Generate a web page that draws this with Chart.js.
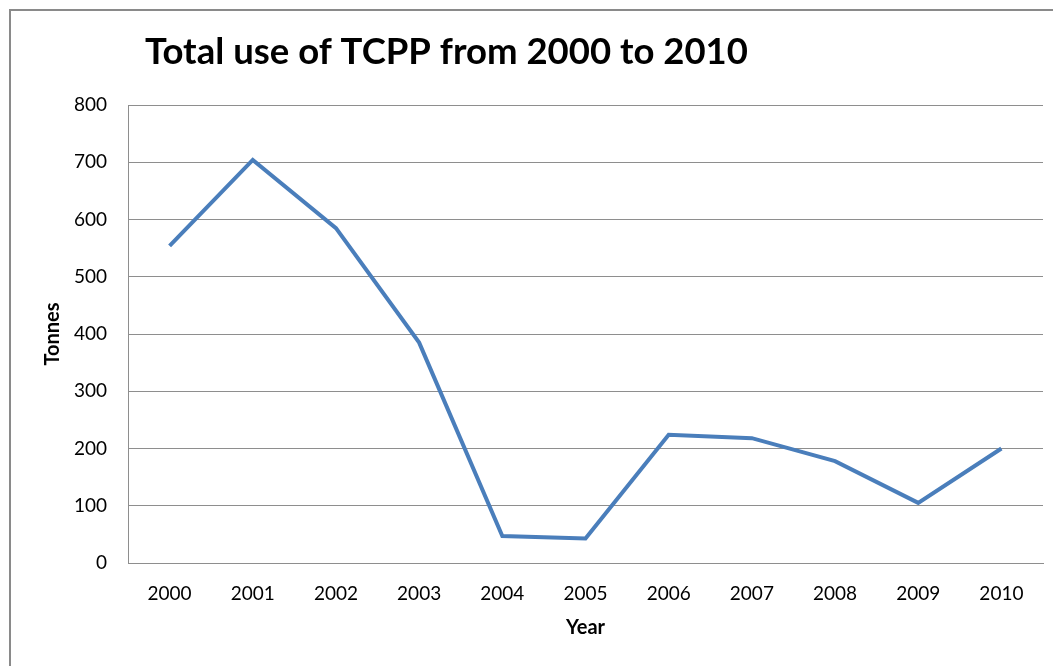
<!DOCTYPE html>
<html>
<head>
<meta charset="utf-8">
<script src="https://cdn.jsdelivr.net/npm/chart.js@4"></script>
<style>
html,body{margin:0;padding:0;background:#fff;}
#wrap{width:1053px;height:666px;position:relative;}
</style>
</head>
<body>
<div id="wrap"><canvas id="c" width="1053" height="666"></canvas></div>
<script>
const chartTitle = 'Total use of TCPP from 2000 to 2010';
const years = ['2000','2001','2002','2003','2004','2005','2006','2007','2008','2009','2010'];
const tonnes = [554, 704, 585, 385, 47, 43, 224, 218, 178, 105, 200];
const yTicks = [0, 100, 200, 300, 400, 500, 600, 700, 800];
const yAxisTitle = 'Tonnes';
const xAxisTitle = 'Year';

const FONT = 'Lato, "Open Sans", sans-serif';

const decor = {
  id: 'decor',
  beforeDraw(chart) {
    const ctx = chart.ctx;
    ctx.save();
    ctx.fillStyle = '#ffffff';
    ctx.fillRect(0, 0, chart.width, chart.height);
    ctx.strokeStyle = '#8a8a8a';
    ctx.lineWidth = 2;
    ctx.strokeRect(10, 10, chart.width + 20, chart.height + 20);
    ctx.restore();
  },
  afterDraw(chart) {
    const ctx = chart.ctx;
    ctx.save();
    ctx.fillStyle = '#000000';
    ctx.font = 'bold 36.5px ' + FONT;
    ctx.textBaseline = 'alphabetic';
    ctx.textAlign = 'left';
    ctx.fillText(chartTitle, 145, 64);
    ctx.restore();
  }
};

new Chart(document.getElementById('c'), {
  type: 'line',
  data: {
    labels: years,
    datasets: [{
      data: tonnes,
      borderColor: '#4a7ebb',
      borderWidth: 4,
      pointRadius: 0,
      tension: 0,
      fill: false
    }]
  },
  options: {
    responsive: false,
    animation: false,
    devicePixelRatio: 1,
    layout: { padding: { top: 105, right: 10, left: 0, bottom: 0 } },
    plugins: { legend: { display: false }, title: { display: false }, tooltip: { enabled: false } },
    scales: {
      x: {
        offset: true,
        grid: { display: false, drawTicks: false },
        border: { display: true, color: '#8e8e8e', width: 1 },
        ticks: { color: '#000', font: { family: FONT, size: 19 }, padding: 19, maxRotation: 0 },
        title: { display: true, text: xAxisTitle, color: '#000', font: { family: FONT, size: 20, weight: 'bold' }, padding: { top: 0, bottom: 26 } },
        afterFit(scale) { scale.height = 103; }
      },
      y: {
        min: 0, max: 800,
        afterBuildTicks(scale) { scale.ticks = yTicks.map(v => ({ value: v })); },
        grid: { color: '#8e8e8e', lineWidth: 1, drawTicks: false },
        border: { display: true, color: '#8e8e8e', width: 1 },
        ticks: { color: '#000', font: { family: FONT, size: 19 }, padding: 21 },
        title: { display: true, text: yAxisTitle, color: '#000', font: { family: FONT, size: 20, weight: 'bold' }, padding: { top: 41, bottom: 0 } },
        afterFit(scale) { scale.width = 128; }
      }
    }
  },
  plugins: [decor]
});
</script>
</body>
</html>
